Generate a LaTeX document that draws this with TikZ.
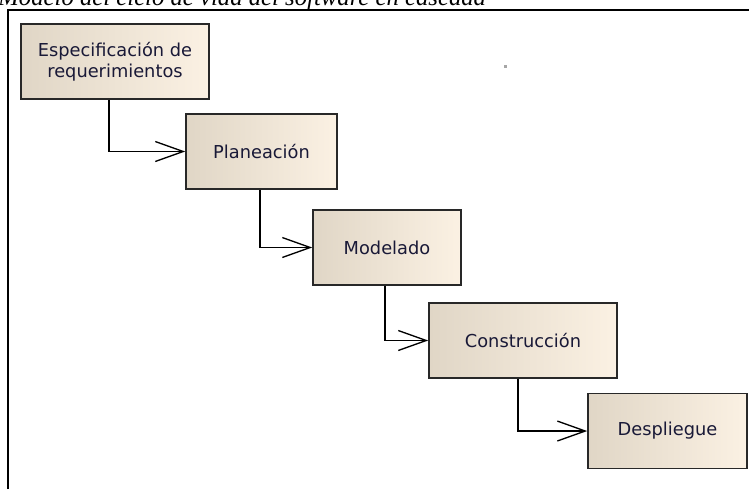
\documentclass[tikz,border=0pt]{standalone}
\usepackage{fontspec}
\setmainfont{Liberation Serif}
\newfontfamily\boxfont{DejaVu Sans}
\usetikzlibrary{arrows.meta}
\definecolor{phaseLeft}{RGB}{224,214,198}
\definecolor{phaseRight}{RGB}{251,241,227}
\definecolor{phaseBorder}{RGB}{40,40,40}
\definecolor{phaseText}{RGB}{25,25,55}

\begin{document}
\begin{tikzpicture}[
  phase/.style={rectangle, draw=phaseBorder, line width=1.2pt,
                left color=phaseLeft, right color=phaseRight,
                minimum height=1.98cm, align=center, inner sep=2pt,
                font=\boxfont\fontsize{13.4}{16}\selectfont,
                text=phaseText},
  flow/.style={line width=1pt,
               -{Straight Barb[length=21pt, width=15pt, line width=1pt]}},
  frame/.style={line width=1.6pt, black}
]
  \useasboundingbox (0,0) rectangle (20,12.937);
  \clip (0,0) rectangle (20,12.937);

  %% Caption (cut at the top)
  \node[anchor=base west, inner sep=0pt,
        font=\itshape\fontsize{18.6}{20}\selectfont] (title)
    at (-0.05,12.79) {Modelo del ciclo de vida del software en cascada};

  %% Frame
  \draw[frame] (0.212,0) -- (0.212,12.672) -- (19.815,12.672);
  \fill[gray!70] (13.32,11.15) rectangle (13.40,11.23);

  %% Phases
  \node[phase, minimum width=4.974cm] (spec)   at (3.042,11.310)
    {Especificación de\\requerimientos};
  \node[phase, minimum width=3.995cm] (plan)   at (6.918,8.929)  {Planeación};
  \node[phase, minimum width=3.915cm] (model)  at (10.238,6.389) {Modelado};
  \node[phase, minimum width=4.974cm] (build)  at (13.836,3.929) {Construcción};
  \node[phase, minimum width=4.206cm] (deploy) at (17.659,1.534) {Despliegue};

  %% Flow between phases
  \foreach \a/\b/\dx in {spec/plan/-0.16, plan/model/-0.04,
                         model/build/-0.05, build/deploy/-0.13}
    \draw[flow] ([xshift=\dx cm]\a.south) |- (\b.west);

\end{tikzpicture}
\end{document}
